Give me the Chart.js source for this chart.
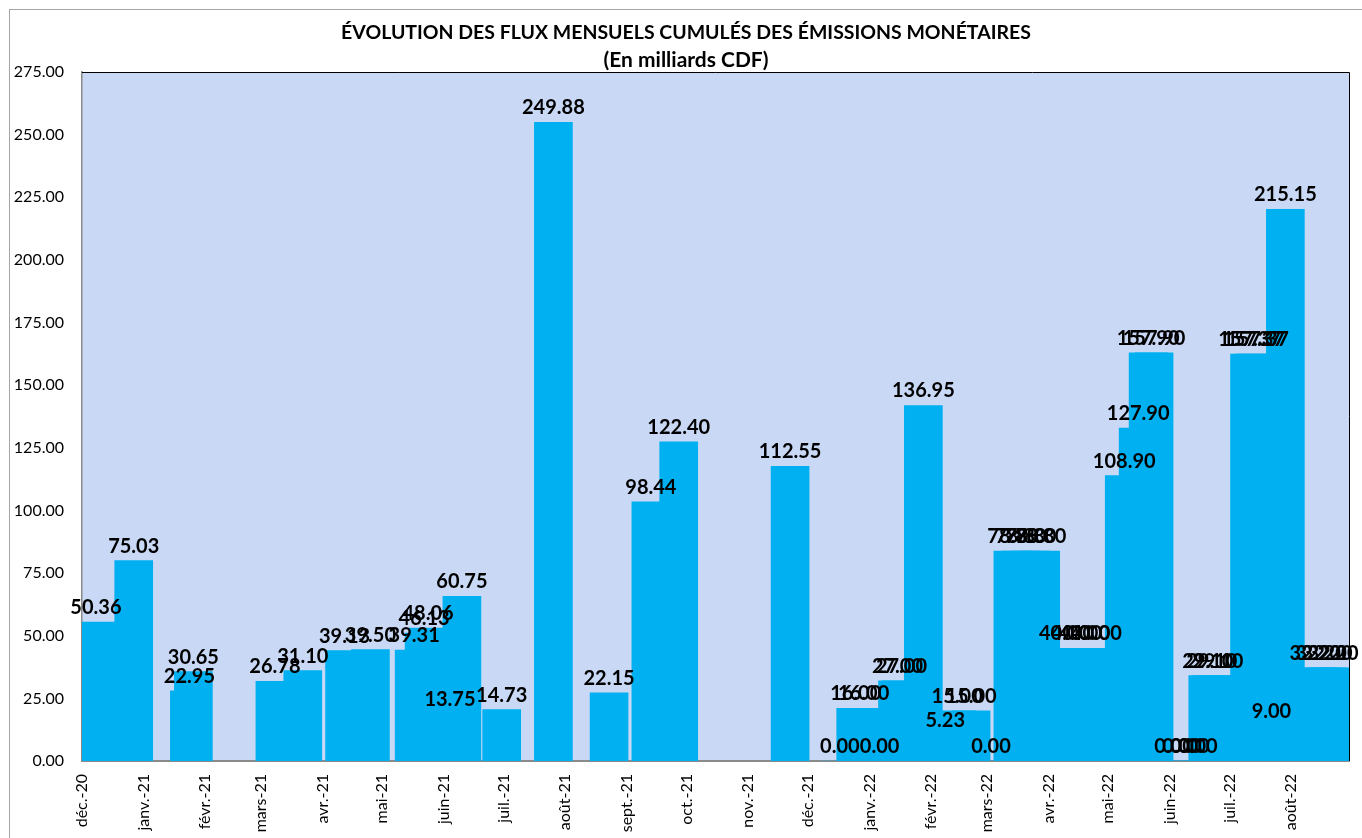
<!DOCTYPE html>
<html lang="fr">
<head>
<meta charset="utf-8">
<title>Évolution des flux mensuels cumulés des émissions monétaires</title>
<script src="https://cdn.jsdelivr.net/npm/chart.js@4.4.1/dist/chart.umd.min.js"></script>
<style>
  html, body { margin: 0; padding: 0; background: #fff; }
</style>
</head>
<body>
<canvas id="chart" width="1362" height="838"></canvas>
<script>
// month ticks on the date axis
const monthLabels = ["déc.-20", "janv.-21", "févr.-21", "mars-21", "avr.-21", "mai-21", "juin-21",
  "juil.-21", "août-21", "sept.-21", "oct.-21", "nov.-21", "déc.-21", "janv.-22", "févr.-22",
  "mars-22", "avr.-22", "mai-22", "juin-22", "juil.-22", "août-22"];

// one entry per bar: date, value shown in its label, bar height as drawn
const dates = [
  "2020-12-08", "2020-12-27", "2021-01-24", "2021-01-26", "2021-03-08", "2021-03-22",
  "2021-04-12", "2021-04-25", "2021-05-17", "2021-05-22", "2021-05-24", "2021-06-04",
  "2021-06-10", "2021-06-30", "2021-07-26", "2021-08-23", "2021-09-13", "2021-09-27",
  "2021-11-22", "2021-12-17", "2021-12-25", "2021-12-29", "2022-01-06", "2022-01-15",
  "2022-01-17", "2022-01-28", "2022-02-08", "2022-02-14", "2022-02-21", "2022-03-03",
  "2022-03-14", "2022-03-18", "2022-03-23", "2022-03-28", "2022-04-09", "2022-04-15",
  "2022-04-19", "2022-04-25", "2022-05-09", "2022-05-16", "2022-05-21", "2022-05-24",
  "2022-06-03", "2022-06-07", "2022-06-11", "2022-06-15", "2022-06-20", "2022-06-22",
  "2022-06-25", "2022-07-11", "2022-07-13", "2022-07-15", "2022-07-22", "2022-07-29",
  "2022-08-13", "2022-08-16", "2022-08-19", "2022-08-22"
];
const values = [
  50.36, 75.03, 22.95, 30.65, 26.78, 31.10,
  39.13, 39.50, 39.31, 46.13, 48.06, 13.75,
  60.75, 14.73, 249.88, 22.15, 98.44, 122.40,
  112.55, 0.00, 16.00, 16.00, 0.00, 27.00,
  27.00, 136.95, 5.23, 15.00, 15.00, 0.00,
  78.80, 78.80, 78.80, 78.80, 40.00, 40.00,
  40.00, 40.00, 108.90, 127.90, 157.90, 157.90,
  0.00, 0.00, 0.00, 0.00, 29.10, 29.10,
  29.10, 157.37, 157.37, 157.37, 9.00, 215.15,
  32.20, 32.20, 32.20, 32.20
];
const heights = [
  55.4, 80.0, 28.0, 35.7, 31.8, 36.1,
  44.1, 44.5, 44.3, 51.1, 53.1, 18.7,
  65.7, 20.5, 254.9, 27.2, 103.4, 127.4,
  117.6, 0, 21.0, 21.0, 0, 32.0,
  32.0, 141.9, 10.2, 20.0, 20.0, 0,
  83.8, 83.8, 83.8, 83.8, 45.0, 45.0,
  45.0, 45.0, 113.9, 132.9, 162.9, 162.9,
  0, 0, 0, 0, 34.1, 34.1,
  34.1, 162.4, 162.4, 162.4, 14.0, 220.2,
  37.2, 37.2, 37.2, 37.2
];

const DAY = 86400000;
const origin = Date.UTC(2020, 11, 1);
function dayOf(iso) {
  const [y, m, d] = iso.split("-").map(Number);
  return (Date.UTC(y, m - 1, d) - origin) / DAY;
}
const monthTicks = monthLabels.map((_, i) => (Date.UTC(2020, 11 + i, 1) - origin) / DAY);

const FONT = "Lato, 'Open Sans', sans-serif";

const chartFrame = {
  id: "chartFrame",
  beforeDraw(chart) {
    const { ctx, chartArea: a } = chart;
    ctx.save();
    ctx.fillStyle = "#ffffff";
    ctx.fillRect(0, 0, chart.width, chart.height);
    ctx.strokeStyle = "#a6a6a6";
    ctx.lineWidth = 1;
    ctx.strokeRect(9.5, 9.5, chart.width + 20, chart.height + 20);
    ctx.fillStyle = "#c9d8f4";
    ctx.fillRect(a.left, a.top, a.right - a.left, a.bottom - a.top);
    ctx.restore();
  },
  afterDraw(chart) {
    const { ctx, chartArea: a } = chart;
    ctx.save();
    ctx.strokeStyle = "#000000";
    ctx.lineWidth = 1;
    ctx.beginPath();
    ctx.moveTo(a.left, a.top + 0.5);
    ctx.lineTo(a.right + 0.5, a.top + 0.5);
    ctx.lineTo(a.right + 0.5, a.bottom);
    ctx.stroke();

    // title, two lines
    ctx.fillStyle = "#000";
    ctx.textAlign = "center";
    ctx.textBaseline = "middle";
    const cx = 686;
    const t1 = "ÉVOLUTION DES FLUX MENSUELS CUMULÉS DES ÉMISSIONS MONÉTAIRES";
    ctx.font = "bold 20px " + FONT;
    let s = 20 * 690 / ctx.measureText(t1).width;
    ctx.font = "bold " + s.toFixed(2) + "px " + FONT;
    ctx.fillText(t1, cx, 33);
    const t2 = "(En milliards CDF)";
    ctx.font = "bold 20px " + FONT;
    s = 20 * 165 / ctx.measureText(t2).width;
    ctx.font = "bold " + s.toFixed(2) + "px " + FONT;
    ctx.fillText(t2, cx, 60);
    ctx.restore();
  }
};

const valueLabels = {
  id: "valueLabels",
  afterDatasetsDraw(chart) {
    const { ctx } = chart;
    const meta = chart.getDatasetMeta(0);
    ctx.save();
    ctx.fillStyle = "#000";
    ctx.font = "bold 20px " + FONT;
    ctx.textAlign = "center";
    ctx.textBaseline = "alphabetic";
    meta.data.forEach((bar, i) => {
      ctx.fillText(values[i].toFixed(2), bar.x, bar.y - 8);
    });
    ctx.restore();
  }
};

function draw() {
  new Chart(document.getElementById("chart"), {
    type: "bar",
    data: {
      datasets: [{
        label: "Flux mensuels cumulés",
        data: dates.map((d, i) => ({ x: dayOf(d), y: heights[i] })),
        backgroundColor: "#00b0f0",
        borderWidth: 0,
        barThickness: 38
      }]
    },
    options: {
      responsive: false,
      animation: false,
      devicePixelRatio: 1,
      layout: { padding: { left: 10, right: 13, top: 72, bottom: 0 } },
      plugins: {
        legend: { display: false },
        tooltip: { enabled: false }
      },
      scales: {
        x: {
          type: "linear",
          min: 0,
          max: 637,
          offset: false,
          grid: { display: false, drawTicks: false },
          border: { color: "#8a8a8a", width: 2 },
          afterBuildTicks: s => { s.ticks = monthTicks.map(v => ({ value: v })); },
          afterFit: s => { s.height = 77; },
          ticks: {
            autoSkip: false,
            minRotation: 90,
            maxRotation: 90,
            padding: 13,
            color: "#000",
            font: { family: FONT, size: 16 },
            callback: (v, i) => monthLabels[i]
          }
        },
        y: {
          min: 0,
          max: 275,
          grid: { display: false, drawTicks: false },
          border: { color: "#8a8a8a", width: 1.5 },
          afterFit: s => { s.width = 72; },
          ticks: {
            stepSize: 25,
            padding: 18,
            color: "#000",
            font: { family: FONT, size: 16 },
            callback: v => v.toFixed(2)
          }
        }
      }
    },
    plugins: [chartFrame, valueLabels]
  });
}

if (document.fonts && document.fonts.load) {
  Promise.all([
    document.fonts.load("16px Lato"),
    document.fonts.load("bold 20px Lato")
  ]).then(draw, draw);
} else {
  draw();
}
</script>
</body>
</html>
